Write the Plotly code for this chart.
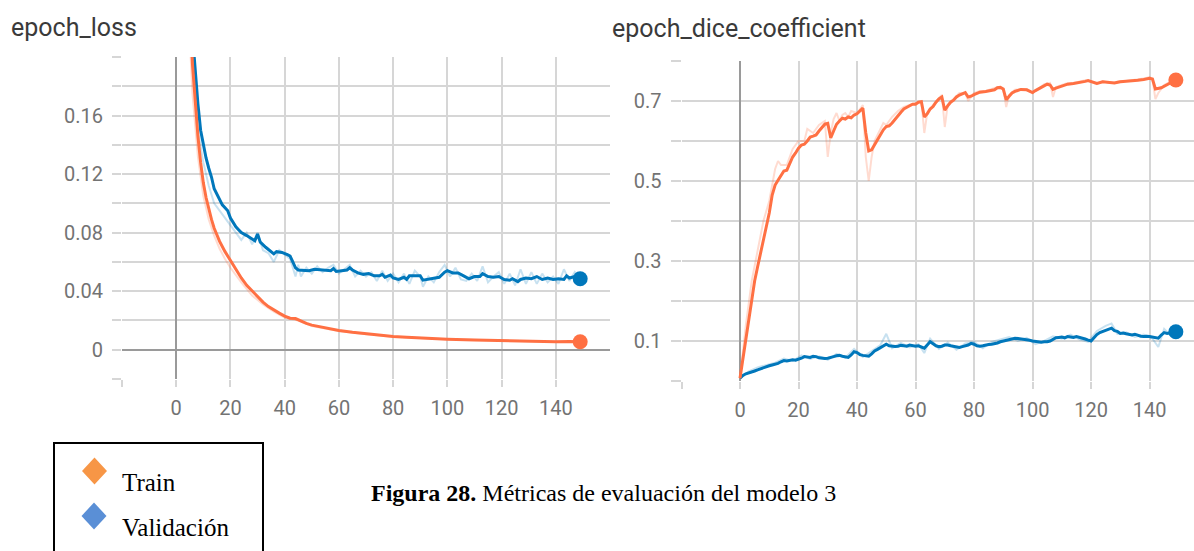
import plotly.graph_objects as go

# ---------------- data ----------------
# epoch_loss, train (smoothed line)
loss_train_ep = [0, 2, 3, 4, 5, 6, 7, 8, 9, 10, 11, 12, 13, 14, 16, 18, 20, 22, 24, 26, 28, 30, 32, 34, 36,
                 38, 40, 42, 44, 46, 48, 50, 55, 60, 65, 70, 75, 80, 85, 90, 95, 100, 110, 120, 130, 140, 145, 149]
loss_train = [0.62, 0.45, 0.36, 0.29, 0.235, 0.195, 0.168, 0.146, 0.128, 0.114, 0.104, 0.096, 0.089, 0.083,
              0.074, 0.067, 0.061, 0.055, 0.049, 0.044, 0.040, 0.036, 0.0325, 0.0295, 0.027, 0.025, 0.023,
              0.0215, 0.0213, 0.0195, 0.018, 0.0168, 0.0148, 0.0132, 0.0119, 0.0108, 0.0098, 0.0091, 0.0085,
              0.0080, 0.0076, 0.0072, 0.0066, 0.0061, 0.0058, 0.0055, 0.0056, 0.0055]
# epoch_loss, train (raw line)
loss_train_raw_ep = [0, 2, 4, 6, 8, 10, 12, 14, 16, 18, 20, 24, 28, 32, 36, 40, 45, 50, 60, 70, 80, 100, 120, 140, 149]
loss_train_raw = [0.58, 0.40, 0.25, 0.175, 0.132, 0.105, 0.089, 0.078, 0.069, 0.062, 0.056, 0.046, 0.037, 0.031,
                  0.026, 0.022, 0.020, 0.0162, 0.0128, 0.0105, 0.0088, 0.0071, 0.0060, 0.0054, 0.0055]

# epoch_loss, validation (smoothed line)
loss_val_ep = [0, 2, 4, 6, 7, 8, 9, 10, 11, 12, 13, 14, 15, 16, 17, 18, 19, 20, 21, 22, 23, 24, 26, 28, 29, 30,
               31, 33, 35, 36, 37, 39, 41, 42, 43, 44, 45, 47, 49, 51, 53, 55, 57, 58, 59, 61, 63, 64, 65, 67,
               69, 71, 73, 75, 76, 77, 79, 80, 82, 84, 85, 86, 88, 90, 91, 93, 95, 97, 99, 100, 102, 104, 106,
               108, 110, 112, 113, 115, 117, 119, 121, 123, 124, 126, 127, 129, 131, 133, 135, 137, 139, 141,
               143, 144, 145, 147, 149]
loss_val = [0.52, 0.40, 0.28, 0.215, 0.19, 0.168, 0.150, 0.140, 0.131, 0.124, 0.118, 0.110, 0.106, 0.102,
            0.099, 0.097, 0.095, 0.090, 0.087, 0.084, 0.082, 0.080, 0.078, 0.0755, 0.0745, 0.079, 0.0735,
            0.070, 0.067, 0.0655, 0.067, 0.0665, 0.065, 0.064, 0.060, 0.056, 0.0545, 0.0545, 0.054, 0.055,
            0.0545, 0.0545, 0.054, 0.0555, 0.0535, 0.054, 0.0545, 0.056, 0.0545, 0.0525, 0.0515, 0.052,
            0.0505, 0.0505, 0.0515, 0.0495, 0.051, 0.049, 0.048, 0.0495, 0.048, 0.0505, 0.0505, 0.0505,
            0.0475, 0.048, 0.0485, 0.0495, 0.053, 0.054, 0.0525, 0.0525, 0.0505, 0.0485, 0.050, 0.050,
            0.052, 0.050, 0.0495, 0.050, 0.048, 0.0475, 0.0485, 0.0465, 0.048, 0.049, 0.0485, 0.050, 0.048,
            0.049, 0.048, 0.0485, 0.048, 0.0505, 0.049, 0.050, 0.0485]
# epoch_loss, validation (raw line)
loss_val_raw_ep = [0, 4, 8, 10, 12, 14, 16, 18, 20, 24, 26, 28, 30, 32, 34, 36, 38, 40, 42, 44, 45, 46, 48, 50,
                   52, 54, 56, 58, 60, 62, 64, 66, 68, 70, 72, 74, 76, 78, 80, 82, 84, 86, 88, 90, 91, 93, 95,
                   97, 99, 101, 103, 105, 107, 109, 111, 113, 115, 117, 119, 121, 123, 125, 127, 129, 131, 133,
                   135, 137, 139, 141, 143, 145, 147, 149]
loss_val_raw = [0.45, 0.24, 0.15, 0.128, 0.112, 0.100, 0.095, 0.090, 0.085, 0.075, 0.080, 0.072, 0.080,
                0.068, 0.066, 0.060, 0.068, 0.065, 0.062, 0.050, 0.058, 0.050, 0.056, 0.052, 0.057, 0.053,
                0.056, 0.058, 0.052, 0.055, 0.058, 0.050, 0.054, 0.050, 0.053, 0.047, 0.054, 0.047, 0.052,
                0.046, 0.052, 0.045, 0.054, 0.050, 0.043, 0.050, 0.046, 0.053, 0.058, 0.050, 0.056, 0.048,
                0.047, 0.052, 0.047, 0.057, 0.046, 0.050, 0.053, 0.045, 0.052, 0.044, 0.055, 0.045, 0.053,
                0.045, 0.052, 0.046, 0.050, 0.045, 0.055, 0.047, 0.053, 0.048]

# epoch_dice_coefficient, train (smoothed line)
dice_train_ep = [0, 1, 2, 3, 4, 5, 6, 7, 8, 9, 10, 11, 12, 13, 14, 15, 16, 17, 18, 19, 20, 21, 22, 23, 24, 25,
                 26, 27, 28, 29, 30, 31, 32, 33, 34, 35, 36, 37, 38, 39, 40, 41, 42, 43, 44, 45, 46, 47, 48,
                 49, 50, 51, 52, 53, 54, 55, 56, 57, 58, 59, 60, 61, 62, 63, 64, 65, 66, 67, 68, 69, 70, 71,
                 72, 73, 74, 75, 76, 77, 78, 79, 80, 82, 84, 86, 87, 88, 89, 90, 91, 92, 93, 94, 96, 98, 100,
                 101, 102, 104, 105, 106, 107, 108, 110, 112, 114, 116, 118, 119, 121, 122, 124, 126, 128,
                 130, 132, 134, 136, 138, 140, 141, 142, 144, 146, 148, 149]
dice_train = [0.007, 0.055, 0.11, 0.16, 0.205, 0.25, 0.285, 0.32, 0.35, 0.385, 0.42, 0.465, 0.49, 0.502,
              0.515, 0.525, 0.527, 0.545, 0.56, 0.57, 0.582, 0.59, 0.592, 0.60, 0.61, 0.612, 0.615, 0.625,
              0.635, 0.642, 0.644, 0.608, 0.625, 0.642, 0.65, 0.657, 0.655, 0.66, 0.658, 0.665, 0.668, 0.675,
              0.682, 0.62, 0.575, 0.578, 0.59, 0.602, 0.615, 0.628, 0.636, 0.638, 0.645, 0.655, 0.665, 0.672,
              0.68, 0.683, 0.688, 0.692, 0.692, 0.697, 0.698, 0.66, 0.668, 0.68, 0.686, 0.697, 0.705, 0.71,
              0.677, 0.688, 0.697, 0.702, 0.71, 0.715, 0.718, 0.721, 0.71, 0.712, 0.716, 0.722, 0.724, 0.727,
              0.728, 0.733, 0.734, 0.73, 0.703, 0.712, 0.72, 0.724, 0.729, 0.728, 0.721, 0.726, 0.73, 0.738,
              0.742, 0.74, 0.729, 0.732, 0.738, 0.742, 0.744, 0.746, 0.749, 0.751, 0.745, 0.744, 0.748, 0.747,
              0.745, 0.748, 0.749, 0.75, 0.752, 0.754, 0.757, 0.755, 0.73, 0.733, 0.74, 0.748, 0.7525]
# epoch_dice_coefficient, train (raw line)
dice_train_raw_ep = [0, 2, 4, 6, 8, 10, 12, 13, 14, 16, 18, 20, 22, 23, 25, 27, 29, 30, 31, 32, 33, 34, 35, 36,
                     37, 38, 40, 42, 43, 44, 45, 46, 47, 48, 49, 50, 52, 54, 56, 58, 60, 62, 63, 64, 66, 68, 69,
                     70, 71, 73, 75, 77, 78, 80, 82, 84, 86, 88, 90, 91, 92, 94, 96, 98, 100, 102, 104, 106,
                     107, 108, 110, 112, 114, 116, 118, 120, 122, 124, 126, 128, 130, 132, 134, 136, 138, 140,
                     141, 142, 143, 145, 147, 149]
dice_train_raw = [0.007, 0.14, 0.25, 0.33, 0.40, 0.45, 0.53, 0.55, 0.54, 0.54, 0.58, 0.60, 0.60, 0.63, 0.62,
                  0.64, 0.65, 0.56, 0.62, 0.655, 0.67, 0.65, 0.665, 0.67, 0.66, 0.675, 0.67, 0.69, 0.56, 0.50,
                  0.56, 0.60, 0.615, 0.63, 0.645, 0.64, 0.66, 0.675, 0.685, 0.69, 0.695, 0.70, 0.62, 0.67, 0.69,
                  0.705, 0.715, 0.635, 0.69, 0.705, 0.72, 0.72, 0.70, 0.72, 0.725, 0.725, 0.73, 0.735, 0.73,
                  0.685, 0.715, 0.728, 0.73, 0.73, 0.72, 0.732, 0.742, 0.745, 0.71, 0.735, 0.74, 0.745, 0.745,
                  0.748, 0.752, 0.748, 0.742, 0.75, 0.745, 0.747, 0.75, 0.75, 0.752, 0.755, 0.756, 0.76, 0.755,
                  0.705, 0.72, 0.74, 0.748, 0.755]

# epoch_dice_coefficient, validation (smoothed line)
dice_val_ep = list(range(0, 150))
dice_val = [0.007, 0.014, 0.018, 0.020, 0.022, 0.025, 0.028, 0.031, 0.033, 0.036, 0.038, 0.040, 0.042, 0.044,
            0.048, 0.051, 0.050, 0.052, 0.053, 0.052, 0.054, 0.057, 0.061, 0.060, 0.059, 0.062, 0.061, 0.058,
            0.057, 0.056, 0.057, 0.060, 0.061, 0.063, 0.064, 0.062, 0.060, 0.059, 0.065, 0.073, 0.071, 0.066,
            0.064, 0.063, 0.062, 0.068, 0.075, 0.079, 0.083, 0.088, 0.092, 0.088, 0.087, 0.086, 0.087, 0.089,
            0.088, 0.087, 0.090, 0.088, 0.087, 0.088, 0.085, 0.082, 0.090, 0.098, 0.093, 0.088, 0.086, 0.087,
            0.090, 0.090, 0.088, 0.087, 0.085, 0.084, 0.086, 0.088, 0.090, 0.094, 0.092, 0.088, 0.087, 0.088,
            0.090, 0.091, 0.092, 0.093, 0.095, 0.098, 0.100, 0.101, 0.103, 0.105, 0.107, 0.106, 0.105, 0.104,
            0.104, 0.102, 0.100, 0.099, 0.098, 0.097, 0.098, 0.098, 0.100, 0.104, 0.108, 0.109, 0.110, 0.108,
            0.111, 0.110, 0.109, 0.111, 0.109, 0.108, 0.105, 0.102, 0.100, 0.108, 0.116, 0.121, 0.124, 0.127,
            0.130, 0.132, 0.126, 0.124, 0.119, 0.120, 0.118, 0.116, 0.115, 0.117, 0.114, 0.112, 0.111, 0.112,
            0.111, 0.110, 0.109, 0.107, 0.115, 0.121, 0.119, 0.120, 0.122, 0.123]
# epoch_dice_coefficient, validation (raw line)
dice_val_raw_ep = [0, 3, 6, 9, 12, 15, 18, 21, 24, 27, 30, 33, 36, 39, 42, 45, 48, 50, 52, 55, 58, 61, 63, 65,
                   68, 71, 74, 77, 80, 83, 86, 89, 92, 95, 98, 101, 104, 107, 110, 113, 116, 119, 122, 125, 127,
                   129, 132, 135, 138, 141, 143, 145, 147, 149]
dice_val_raw = [0.007, 0.024, 0.034, 0.040, 0.046, 0.056, 0.050, 0.064, 0.055, 0.062, 0.053, 0.068, 0.058,
                0.080, 0.060, 0.075, 0.090, 0.118, 0.082, 0.095, 0.084, 0.092, 0.070, 0.106, 0.080, 0.096,
                0.078, 0.094, 0.098, 0.082, 0.098, 0.104, 0.110, 0.100, 0.108, 0.092, 0.100, 0.112, 0.106,
                0.116, 0.104, 0.098, 0.125, 0.138, 0.144, 0.118, 0.122, 0.110, 0.116, 0.106, 0.085, 0.130,
                0.115, 0.125]

# axis ticks
loss_yticks = [-0.02, 0.0, 0.02, 0.04, 0.06, 0.08, 0.10, 0.12, 0.14, 0.16, 0.18, 0.20]
loss_ylabels = ["", "0", "", "0.04", "", "0.08", "", "0.12", "", "0.16", "", ""]
dice_yticks = [0.0, 0.1, 0.2, 0.3, 0.4, 0.5, 0.6, 0.7, 0.8]
dice_ylabels = ["", "0.1", "", "0.3", "", "0.5", "", "0.7", ""]
epoch_ticks = [-20, 0, 20, 40, 60, 80, 100, 120, 140]
epoch_labels = ["", "0", "20", "40", "60", "80", "100", "120", "140"]

titles = ["epoch_loss", "epoch_dice_coefficient"]
legend_names = ["Train", "Validación"]
caption_bold = "Figura 28."
caption_rest = " Métricas de evaluación del modelo 3"

# ---------------- styling ----------------
W, H = 1194, 551
ORANGE = "#ff7043"
BLUE = "#0077bb"
ORANGE_LIGHT = "rgba(255,112,67,0.25)"
BLUE_LIGHT = "rgba(0,119,187,0.22)"
GRID = "#d6d6d6"
ZERO = "#9a9a9a"
TICKFONT = dict(family="Roboto", size=20, color="#737373")


def px_x(p):
    return p / W


def px_y(p):
    return 1 - p / H


fig = go.Figure()


def add_series(xa, ya, raw_x, raw_y, sx, sy, color, light):
    fig.add_trace(go.Scatter(x=raw_x, y=raw_y, mode="lines", line=dict(color=light, width=2),
                             xaxis=xa, yaxis=ya, showlegend=False, hoverinfo="skip"))
    fig.add_trace(go.Scatter(x=sx, y=sy, mode="lines", line=dict(color=color, width=3),
                             xaxis=xa, yaxis=ya, showlegend=False))
    fig.add_trace(go.Scatter(x=[sx[-1]], y=[sy[-1]], mode="markers",
                             marker=dict(color=color, size=15), xaxis=xa, yaxis=ya,
                             showlegend=False, cliponaxis=False))


add_series("x", "y", loss_val_raw_ep, loss_val_raw, loss_val_ep, loss_val, BLUE, BLUE_LIGHT)
add_series("x", "y", loss_train_raw_ep, loss_train_raw, loss_train_ep, loss_train, ORANGE, ORANGE_LIGHT)
add_series("x2", "y2", dice_val_raw_ep, dice_val_raw, dice_val_ep, dice_val, BLUE, BLUE_LIGHT)
add_series("x2", "y2", dice_train_raw_ep, dice_train_raw, dice_train_ep, dice_train, ORANGE, ORANGE_LIGHT)

common_axis = dict(showgrid=True, gridcolor=GRID, gridwidth=1.6, ticks="outside", tickcolor=GRID,
                   tickwidth=1.6, showline=False, tickfont=TICKFONT, fixedrange=True, tickmode="array")

fig.update_layout(
    width=W, height=H,
    margin=dict(l=0, r=0, t=0, b=0),
    paper_bgcolor="white", plot_bgcolor="white",
    showlegend=False,
    xaxis=dict(domain=[px_x(122), px_x(610)], range=[-20, 160], anchor="y",
               tickvals=epoch_ticks, ticktext=epoch_labels, ticklen=7, ticklabelstandoff=4,
               zeroline=True, zerolinecolor=ZERO, zerolinewidth=2, **common_axis),
    yaxis=dict(domain=[px_y(379), px_y(57)], range=[-0.02, 0.20], anchor="x",
               tickvals=loss_yticks, ticktext=loss_ylabels, ticklen=9, ticklabelstandoff=5,
               zeroline=True, zerolinecolor=ZERO, zerolinewidth=2, **common_axis),
    xaxis2=dict(domain=[px_x(681.5), 1.0], range=[-20, 155.2], anchor="y2",
                tickvals=epoch_ticks, ticktext=epoch_labels, ticklen=7, ticklabelstandoff=4,
                zeroline=True, zerolinecolor=ZERO, zerolinewidth=2, **common_axis),
    yaxis2=dict(domain=[px_y(381), px_y(61)], range=[0, 0.8], anchor="x2",
                tickvals=dice_yticks, ticktext=dice_ylabels, ticklen=10, ticklabelstandoff=5,
                zeroline=False, **common_axis),
)

# chart titles
fig.add_annotation(text=titles[0], xref="paper", yref="paper", x=px_x(9), y=px_y(27),
                   xanchor="left", yanchor="middle", showarrow=False,
                   font=dict(family="Roboto", size=25, color="#3a3a3a"))
fig.add_annotation(text=titles[1], xref="paper", yref="paper", x=px_x(610), y=px_y(28),
                   xanchor="left", yanchor="middle", showarrow=False,
                   font=dict(family="Roboto", size=25, color="#3a3a3a"))

# legend box
fig.add_shape(type="rect", xref="paper", yref="paper", x0=px_x(54), x1=px_x(263), y0=px_y(560), y1=px_y(443),
              line=dict(color="black", width=2), fillcolor="rgba(0,0,0,0)")


def diamond(cx, cy, hw, hh, color):
    path = "M {} {} L {} {} L {} {} L {} {} Z".format(
        px_x(cx), px_y(cy - hh), px_x(cx + hw), px_y(cy), px_x(cx), px_y(cy + hh), px_x(cx - hw), px_y(cy))
    fig.add_shape(type="path", xref="paper", yref="paper", path=path,
                  line=dict(color=color, width=0), fillcolor=color)


diamond(94.5, 471, 12.5, 13.5, "#f79646")
diamond(94, 516, 12.5, 13.5, "#5a8fd6")
fig.add_annotation(text=legend_names[0], xref="paper", yref="paper", x=px_x(120), y=px_y(482),
                   xanchor="left", yanchor="middle", showarrow=False,
                   font=dict(family="Liberation Serif", size=25, color="black"))
fig.add_annotation(text=legend_names[1], xref="paper", yref="paper", x=px_x(120), y=px_y(527),
                   xanchor="left", yanchor="middle", showarrow=False,
                   font=dict(family="Liberation Serif", size=25, color="black"))

# caption
fig.add_annotation(text="<b>" + caption_bold + "</b>" + caption_rest, xref="paper", yref="paper",
                   x=px_x(369), y=px_y(493), xanchor="left", yanchor="middle", showarrow=False,
                   font=dict(family="Liberation Serif", size=24, color="black"))

fig.write_html("out.html", config={"displayModeBar": False},
               post_script="document.body.style.margin='0';document.body.style.overflow='hidden';")
